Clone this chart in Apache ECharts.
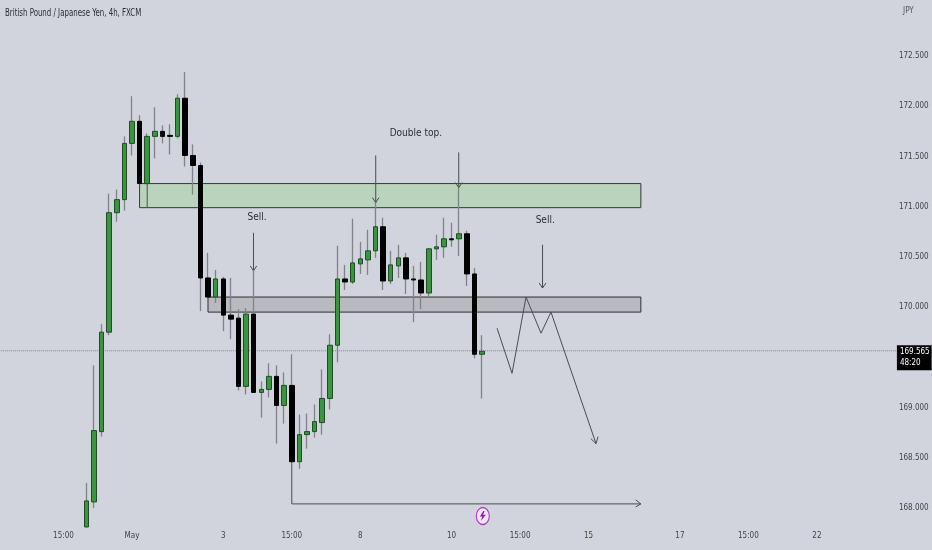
<!DOCTYPE html>
<html><head><meta charset="utf-8">
<script src="https://cdn.jsdelivr.net/npm/echarts@6/dist/echarts.min.js"></script>
<style>html,body{margin:0;padding:0;background:#d1d4dc}#c{width:932px;height:550px}</style>
</head><body><div id="c"></div>
<script>
const opens=[167.81,168.06,168.76,169.75,170.94,171.07,171.63,171.85,171.23,171.70,171.75,171.71,171.70,172.08,171.51,171.41,170.29,170.10,170.28,169.92,169.89,169.21,169.93,169.15,169.18,169.31,169.02,169.22,168.46,168.73,168.76,168.85,169.09,169.62,170.28,170.25,170.43,170.47,170.56,170.80,170.26,170.41,170.49,170.28,170.27,170.14,170.58,170.60,170.68,170.68,170.73,170.33,169.53];
const closes=[168.07,168.77,169.75,170.94,171.07,171.63,171.85,171.23,171.70,171.75,171.70,171.70,172.08,171.51,171.41,170.29,170.10,170.28,169.92,169.88,169.21,169.93,169.15,169.18,169.31,169.02,169.22,168.46,168.73,168.76,168.86,169.09,169.62,170.28,170.25,170.44,170.48,170.56,170.80,170.26,170.42,170.49,170.28,170.27,170.14,170.58,170.60,170.68,170.67,170.73,170.33,169.53,169.56];
const lows=[167.81,168.00,168.71,169.72,170.85,170.96,171.51,171.22,171.22,171.48,171.63,171.52,171.68,171.40,171.12,169.96,170.09,170.04,169.76,169.68,169.17,169.13,169.15,168.90,169.10,168.64,168.84,168.46,168.39,168.59,168.70,168.73,168.98,169.45,170.17,170.23,170.33,170.32,170.49,170.17,170.23,170.29,170.13,169.85,169.98,170.11,170.47,170.49,170.60,170.51,170.21,169.49,169.09];
const highs=[168.25,169.42,169.83,171.13,171.17,171.70,172.10,171.91,171.73,171.99,171.81,171.82,172.12,172.34,171.62,171.44,170.54,170.37,170.30,170.29,169.98,169.99,170.37,169.26,169.44,169.42,169.35,169.53,168.93,168.94,169.03,169.38,169.73,170.61,170.42,170.88,170.65,170.77,171.04,170.89,170.56,170.62,170.54,170.41,170.45,170.59,170.72,170.89,170.84,171.19,170.76,170.39,169.72];
const timeTicks=[[-3,'15:00'],[6,'May'],[18,'3'],[27,'15:00'],[36,'8'],[48,'10'],[57,'15:00'],[66,'15'],[78,'17'],[87,'15:00'],[96,'22']];
const priceTicks=[168,168.5,169,169.5,170,170.5,171,171.5,172,172.5];
const lastPrice=169.565;
const countdown='48:20';
const greenZone=[[7,171.23],[72.87,170.99]];
const grayZone=[[15.99,170.10],[72.87,169.95]];
const drawings=[
 [[21.97,170.74],[21.97,170.36]],[[21.55,170.41],[21.97,170.36],[22.39,170.41]],
 [[38.03,171.51],[38.03,171.04]],[[37.6,171.09],[38.03,171.04],[38.45,171.09]],
 [[48.94,171.54],[48.94,171.19]],[[48.5,171.24],[48.94,171.19],[49.4,171.24]],
 [[59.95,170.62],[59.95,170.19]],[[59.5,170.24],[59.95,170.19],[60.4,170.24]],
 [[53.97,169.79],[55.94,169.34],[57.78,170.10],[59.75,169.74],[61.06,169.95],[66.98,168.64]],
 [[66.3,168.69],[66.98,168.64],[67.24,168.71]],
 [[27,168.46],[27,168.04],[72.87,168.04]],[[72.2,168.08],[72.87,168.04],[72.2,168.01]],
 [[8,171.23],[8,170.99]]
];
const notes=[[22.43,170.89,'Sell.'],[43.3,171.73,'Double top.'],[60.3,170.86,'Sell.']];
const boltPoint=[52.1,167.92];

const firstCat=-11,lastCat=106;
const cats=[];
for(let i=firstCat;i<=lastCat;i++){const t=timeTicks.find(a=>a[0]===i);cats.push(t?t[1]:'');}
const pad=Array(-firstCat).fill('-');
const wickData=pad.concat(opens.map((o,i)=>[o,closes[i],lows[i],highs[i]]));
const bodyData=pad.concat(opens.map((o,i)=>[o,closes[i],Math.min(o,closes[i]),Math.max(o,closes[i])]));
const drawingLine=[];
drawings.forEach(d=>{d.forEach(p=>drawingLine.push(p));drawingLine.push([null,null]);});

const font='"DejaVu Sans Condensed","Liberation Sans",sans-serif';
const chart=echarts.init(document.getElementById('c'),null,{renderer:'canvas'});
chart.setOption({
 animation:false,
 backgroundColor:'#d1d4dc',
 graphic:[
  {type:'text',left:5,top:8,scaleX:0.78,style:{text:'British Pound / Japanese Yen, 4h, FXCM',font:'10px "DejaVu Sans Condensed"',fill:'#2a2e39'}},
  {type:'text',left:903,top:6,scaleX:0.9,style:{text:'JPY',font:'9px "DejaVu Sans Condensed"',fill:'#555'}}
 ],
 grid:{left:-1.2,right:35.22,top:0,bottom:23,outerBoundsMode:'none',containLabel:false},
 xAxis:[
  {type:'category',data:cats,boundaryGap:true,axisLine:{show:false},axisTick:{show:false},splitLine:{show:false},
   axisLabel:{interval:0,margin:5,fontFamily:font,fontSize:8,color:'#444',hideOverlap:false}},
  {type:'value',min:firstCat-0.5,max:lastCat+0.5,show:false,splitLine:{show:false}}
 ],
 yAxis:{type:'value',position:'right',min:167.81,max:173.058,axisLine:{show:false},axisTick:{show:false},splitLine:{show:false},
  axisLabel:{customValues:priceTicks,margin:17,align:'center',fontFamily:font,fontSize:8,color:'#444',formatter:v=>v.toFixed(3)}},
 series:[
  {name:'zones',type:'line',xAxisIndex:1,data:[],z:1,symbol:'none',
   markArea:{silent:true,data:[
    [{coord:greenZone[0],itemStyle:{color:'#b9d3bd',borderColor:'#2f3b33',borderWidth:1,opacity:1}},{coord:greenZone[1]}],
    [{coord:grayZone[0],itemStyle:{color:'#b8bac0',borderColor:'#2c2e33',borderWidth:1,opacity:1}},{coord:grayZone[1]}]
   ]}},
  {name:'last',type:'line',xAxisIndex:1,symbol:'none',z:2,silent:true,
   data:[[firstCat-0.5,lastPrice],[lastCat+0.5,lastPrice]],lineStyle:{color:'#7d8087',width:1,type:'dotted'}},
  {name:'drawings',type:'line',xAxisIndex:1,symbol:'none',z:3,silent:true,connectNulls:false,
   data:drawingLine,lineStyle:{color:'#4a4d52',width:1}},
  {name:'wicks',type:'candlestick',xAxisIndex:0,z:4,barWidth:1,data:wickData,silent:true,
   itemStyle:{color:'#808388',color0:'#808388',borderColor:'#808388',borderColor0:'#808388',borderWidth:1.3}},
  {name:'bodies',type:'candlestick',xAxisIndex:0,z:5,barWidth:5,data:bodyData,silent:true,
   itemStyle:{color:'#3a9440',color0:'#000000',borderColor:'#1d4f22',borderColor0:'#000000',borderWidth:1}},
  {name:'notes',type:'scatter',xAxisIndex:1,z:6,symbolSize:1,silent:true,itemStyle:{color:'transparent',opacity:1},
   data:notes.map(n=>({value:[n[0],n[1]],label:{show:true,position:'inside',formatter:n[2],fontFamily:font,fontSize:10,color:'#2a2e39'}}))},
  {name:'priceTag',type:'scatter',xAxisIndex:1,z:7,clip:false,symbolSize:1,silent:true,itemStyle:{color:'transparent',opacity:1},
   data:[{value:[lastCat+0.45,lastPrice],label:{show:true,position:'right',distance:0,offset:[0,7],
     formatter:lastPrice.toFixed(3)+'\n'+countdown,backgroundColor:'#000',color:'#fff',padding:[2,2,1,3],lineHeight:11,fontFamily:font,fontSize:8}}]},
  {name:'boltRing',type:'scatter',xAxisIndex:1,z:7,silent:true,symbol:'circle',symbolSize:[13,17],
   data:[boltPoint],itemStyle:{color:'#efe6f2',borderColor:'#b23fcb',borderWidth:1.3,opacity:1}},
  {name:'bolt',type:'scatter',xAxisIndex:1,z:8,silent:true,symbol:'path://M6 0L0 9H4L2 16L10 6H5.5L8 0Z',symbolSize:[6,10],
   data:[boltPoint],itemStyle:{color:'#8e24aa',opacity:1}}
 ]
});
</script></body></html>
